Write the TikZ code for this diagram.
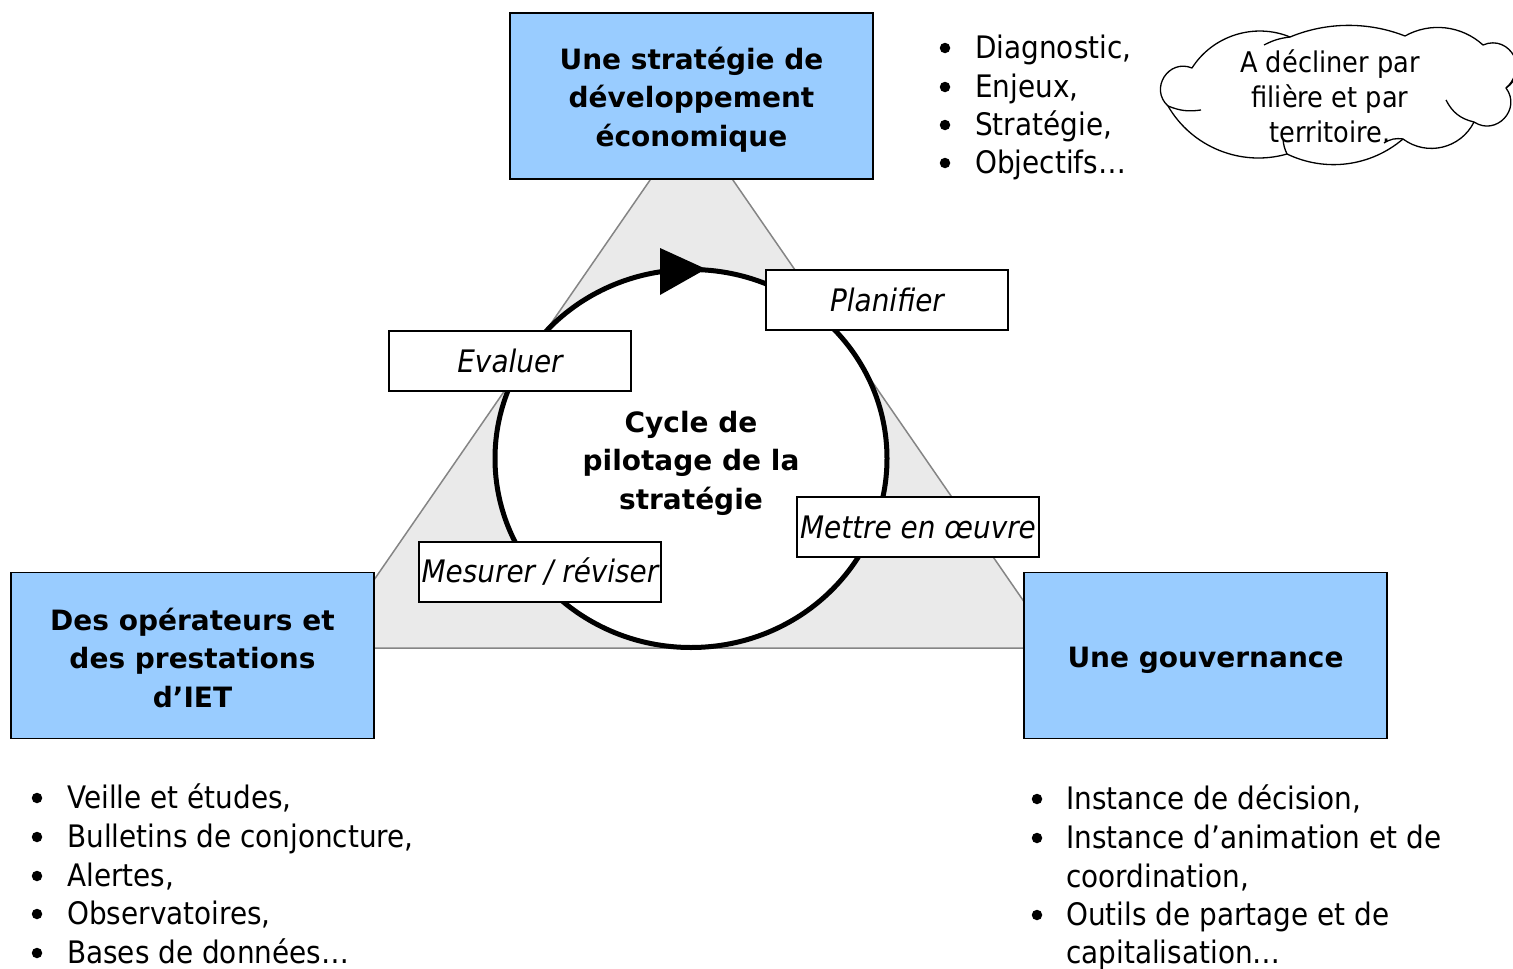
\documentclass[tikz,border=0pt]{standalone}
\usepackage{fontspec}
\setmainfont{DejaVu Sans}[FakeStretch=0.9]
\newfontfamily\boldfam{DejaVu Sans}
\definecolor{boxblue}{HTML}{99CCFF}
\definecolor{trifill}{HTML}{EAEAEA}
\definecolor{triline}{HTML}{858585}
\begin{document}
\begin{tikzpicture}[x=1pt,y=-1pt,
  bluebox/.style={draw=black, line width=1.5pt, fill=boxblue, minimum width=363pt, minimum height=166pt, inner sep=0pt},
  title/.style={font=\boldfam\bfseries\fontsize{28}{38.5}\selectfont, align=center, inner sep=0pt},
  labelbox/.style={draw=black, line width=1.3pt, fill=white, minimum width=242pt, minimum height=60pt, inner sep=0pt,
    font=\itshape\fontsize{31}{38}\selectfont},
  item/.style={anchor=base west, inner sep=0pt, font=\fontsize{31}{38.5}\selectfont},
  bul/.style={circle, fill=black, minimum size=10.5pt, inner sep=0pt},
  cloudline/.style={draw=black, line width=1.3pt},
]
\useasboundingbox (0,0) rectangle (1513,969);

% triangle
\filldraw[fill=trifill, draw=triline, line width=1.5pt] (691.5,120) -- (327,648) -- (1056,648) -- cycle;

% cycle circle and arrowhead
\draw[line width=5pt, fill=white] (691,458.5) ellipse [x radius=196pt, y radius=189pt];
\fill[black] (660,248) -- (660,295) -- (706,269) -- cycle;
\node[title] (cycle) at (691,463) {Cycle de\\pilotage de la\\stratégie};

% blue boxes
\node[bluebox] (strat) at (691.5,96) {};
\node[title] (strattxt) at (691.5,99.5) {Une stratégie de\\développement\\économique};
\node[bluebox] (oper) at (192.5,655.5) {};
\node[title] (opertxt) at (192.5,657.5) {Des opérateurs et\\des prestations\\d’IET};
\node[bluebox] (gouv) at (1205.5,655.5) {};
\node[title, anchor=base] (gouvtxt) at (1205.5,667) {Une gouvernance};

% step labels
\node[labelbox] (plan) at (887,300) {Planifier};
\node[labelbox] (eval) at (510,361) {Evaluer};
\node[labelbox] (mettre) at (918,527) {Mettre en œuvre};
\node[labelbox] (mesure) at (540,572) {Mesurer / réviser};

% cloud
\coordinate (J9) at (1168,106);
\coordinate (J1) at (1192,68);
\coordinate (J2) at (1290,37);
\coordinate (J3) at (1405,36);
\coordinate (J4) at (1483,45);
\coordinate (J5) at (1506,88);
\coordinate (J6) at (1474,122);
\coordinate (J7) at (1403,139);
\coordinate (J8) at (1287,154);
\path[cloudline, fill=white, line join=round]
  (J9) to[bend left=80, looseness=1.45] (J1) to[bend left=40, looseness=0.96] (J2)
  to[bend left=22, looseness=0.88] (J3) to[bend left=36, looseness=0.94] (J4)
  to[bend left=85, looseness=1.55] (J5) to[bend left=80, looseness=1.45] (J6)
  to[bend left=50, looseness=1.04] (J7) to[bend left=33, looseness=0.93] (J8)
  to[bend left=38, looseness=0.95] (J9) -- cycle;
\draw[cloudline] (J9) to[bend right=15] (1201,110);
\draw[cloudline] (J2) to[bend right=10] (1264,45);
\draw[cloudline] (J6) to[bend left=25] (1446,100);
\draw[cloudline] (J5) to[bend right=15] (1515,74);
\draw[cloudline] (J8) to[bend left=10] (1283,139);
\draw[cloudline] (J7) to[bend right=20] (1384,143);
\node[align=center, inner sep=0pt, font=\fontsize{28.5}{35}\selectfont] (cloudtxt) at (1330,96)
  {A décliner par\\filière et par\\territoire.};

% top-right list
\node[bul] (td1) at (945,48) {};   \node[item] (tl1) at (975,58) {Diagnostic,};
\node[bul] (td2) at (945,87) {};   \node[item] (tl2) at (975,97) {Enjeux,};
\node[bul] (td3) at (945,125) {};  \node[item] (tl3) at (975,135) {Stratégie,};
\node[bul] (td4) at (945,163) {};  \node[item] (tl4) at (975,173) {Objectifs…};

% bottom-left list
\node[bul] (ld1) at (37,798) {};  \node[item] (ll1) at (67,808) {Veille et études,};
\node[bul] (ld2) at (37,837) {};  \node[item] (ll2) at (67,847) {Bulletins de conjoncture,};
\node[bul] (ld3) at (37,876) {};  \node[item] (ll3) at (67,886) {Alertes,};
\node[bul] (ld4) at (37,914) {};  \node[item] (ll4) at (67,924) {Observatoires,};
\node[bul] (ld5) at (37,953) {};  \node[item] (ll5) at (67,963) {Bases de données…};

% bottom-right list
\node[bul] (rd1) at (1037,799) {};  \node[item] (rl1) at (1066,809) {Instance de décision,};
\node[bul] (rd2) at (1037,838) {};  \node[item] (rl2) at (1066,848) {Instance d’animation et de};
\node[item] (rl2b) at (1066,887) {coordination,};
\node[bul] (rd3) at (1037,915) {};  \node[item] (rl3) at (1066,925) {Outils de partage et de};
\node[item] (rl3b) at (1066,963) {capitalisation…};
\end{tikzpicture}
\end{document}
